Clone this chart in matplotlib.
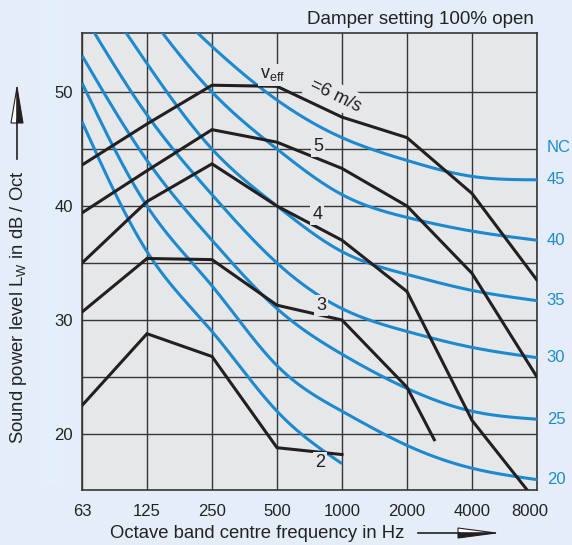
import matplotlib
matplotlib.use('Agg')
import matplotlib.pyplot as plt
import matplotlib.transforms as mtransforms
from matplotlib.patches import Polygon, Rectangle
from matplotlib.lines import Line2D
import numpy as np

plt.rcParams['font.family'] = ['Liberation Sans', 'DejaVu Sans']
plt.rcParams['mathtext.default'] = 'regular'

# octave bands
freq_labels = ['63', '125', '250', '500', '1000', '2000', '4000', '8000']
band_pos = np.arange(8)

# NC curves (blue)
nc_levels = [15, 20, 25, 30, 35, 40, 45]
nc15 = [47.4, 36, 29, 22, 17.4]
nc20 = [50.8, 40, 33, 26, 22, 19, 17, 16]
nc25 = [53.2, 44, 37, 31, 27, 24, 22, 21.3]
nc30 = [57, 48, 41, 35, 31, 29, 27.6, 26.7]
nc35 = [61, 52.5, 45, 40, 36, 34, 32.6, 31.7]
nc40 = [65, 57, 50, 45, 41, 39, 37.8, 37]
nc45 = [68, 60, 54, 49.3, 46, 44, 42.6, 42.3]

# v_eff lines (black)
v_labels = ['2', '3', '4', '5', '6']
v2_x = [0, 1, 2, 3, 4]
v2 = [22.5, 28.8, 26.8, 18.8, 18.2]
v3_x = [0, 1, 2, 3, 4, 5, 5.42]
v3 = [30.7, 35.4, 35.3, 31.3, 30.0, 24.1, 19.5]
v4_x = [0, 1, 2, 3, 4, 5, 6, 7]
v4 = [35.0, 40.4, 43.7, 40.0, 37.0, 32.5, 21.2, 14.0]
v5_x = [0, 1, 2, 3, 4, 5, 6, 7]
v5 = [39.4, 43.1, 46.7, 45.6, 43.3, 40.0, 34.1, 25.0]
v6_x = [0, 1, 2, 3, 4, 5, 6, 7]
v6 = [43.6, 47.2, 50.6, 50.5, 47.8, 46.0, 41.1, 33.5]

blue = '#1d8ad0'
black = '#231f20'
plot_bg = '#e6e7e9'
fig_bg = '#e5eef8'
grid_c = '#363636'


def spline(x, y, xs):
    # natural cubic spline, just to draw the NC curves smooth
    x = np.asarray(x, float)
    y = np.asarray(y, float)
    n = len(x)
    h = np.diff(x)
    A = np.zeros((n, n))
    b = np.zeros(n)
    A[0, 0] = A[-1, -1] = 1
    for k in range(1, n - 1):
        A[k, k - 1] = h[k - 1]
        A[k, k] = 2 * (h[k - 1] + h[k])
        A[k, k + 1] = h[k]
        b[k] = 6 * ((y[k + 1] - y[k]) / h[k] - (y[k] - y[k - 1]) / h[k - 1])
    M = np.linalg.solve(A, b)
    i = np.clip(np.searchsorted(x, xs) - 1, 0, n - 2)
    hi = h[i]
    t0 = x[i + 1] - xs
    t1 = xs - x[i]
    return (M[i] * t0**3 / (6 * hi) + M[i + 1] * t1**3 / (6 * hi)
            + (y[i] / hi - M[i] * hi / 6) * t0 + (y[i + 1] / hi - M[i + 1] * hi / 6) * t1)


fig = plt.figure(figsize=(5.72, 5.45), dpi=100, facecolor=fig_bg)
fig.patches.append(Rectangle((47 / 572, 1 - 483 / 545), 10 / 572, 483 / 545,
                             transform=fig.transFigure, color='#e2f0f9', zorder=-5))
ax = fig.add_axes([82 / 572, 1 - 490 / 545, 455 / 572, 457 / 545])
ax.set_facecolor(plot_bg)
ax.set_xlim(0, 7)
ax.set_ylim(15.09, 55.18)

ax.set_xticks(band_pos)
ax.set_xticklabels(freq_labels)
ax.set_yticks([20, 30, 40, 50])
ax.set_yticks([25, 35, 45], minor=True)
ax.tick_params(which='both', length=0, labelsize=12, colors='#222222')
ax.tick_params(axis='y', pad=6.5)
ax.tick_params(axis='x', pad=10)
ax.grid(True, which='both', color=grid_c, lw=1.0)
ax.set_axisbelow(True)
for s in ax.spines.values():
    s.set_color(grid_c)
    s.set_linewidth(1.2)
lbl = ax.get_xticklabels()[-1]
lbl.set_transform(lbl.get_transform() + mtransforms.ScaledTranslation(-0.07, 0, fig.dpi_scale_trans))

# NC curves
for lev, vals in zip(nc_levels, [nc15, nc20, nc25, nc30, nc35, nc40, nc45]):
    xp = band_pos[:len(vals)]
    xs = np.linspace(xp[0], xp[-1], 300)
    ax.plot(xs, spline(xp, vals, xs), color=blue, lw=2.2, zorder=3, solid_capstyle='butt')
    if lev >= 20:
        ax.annotate(str(lev), (7, vals[-1]), xytext=(7, 0), textcoords='offset points',
                    color=blue, fontsize=12, va='center', ha='left', annotation_clip=False)
ax.annotate('NC', (7, nc45[-1]), xytext=(7, 23), textcoords='offset points',
            color=blue, fontsize=12, va='center', ha='left', annotation_clip=False)

# velocity lines
for vx, vy in [(v2_x, v2), (v3_x, v3), (v4_x, v4), (v5_x, v5), (v6_x, v6)]:
    ax.plot(vx, vy, color=black, lw=2.2, zorder=4, solid_joinstyle='miter')

box = dict(facecolor=plot_bg, edgecolor='none', pad=1.5)
for txt, x, y in [('2', 3.66, 17.5), ('3', 3.68, 31.3), ('4', 3.62, 39.3), ('5', 3.63, 45.2)]:
    ax.text(x, y, txt, fontsize=13, color=black, ha='center', va='center', bbox=box, zorder=5)
ax.text(2.94, 51.5, 'v$_{eff}$', fontsize=13, color=black, ha='center', va='center',
        bbox=box, zorder=5)
ax.text(3.9, 49.7, '=6 m/s', fontsize=13, color=black, ha='center', va='center',
        rotation=-26, rotation_mode='anchor', bbox=dict(facecolor=plot_bg, edgecolor='none', pad=3), zorder=2.5)

fig.text(534 / 572, 1 - 19 / 545, 'Damper setting 100% open', fontsize=13.5, ha='right',
         va='center', color='#222222')
fig.text(257 / 572, 1 - 533 / 545, 'Octave band centre frequency in Hz', fontsize=13.3,
         ha='center', va='center', color='#222222')
fig.text(19 / 572, 1 - 307 / 545, 'Sound power level L$_W$ in dB / Oct', fontsize=13.3,
         ha='center', va='center', rotation=90, color='#222222')


# arrows drawn in pixel coords of the figure
def px(x, y):
    return (x / 572, 1 - y / 545)


tf = fig.transFigure
# x arrow
fig.add_artist(Line2D([px(418, 0)[0], px(460, 0)[0]], [px(0, 533)[1]] * 2, transform=tf,
                      color=black, lw=1.2))
fig.add_artist(Polygon([px(458, 533), px(496, 533), px(458, 528)], closed=True, transform=tf,
                       facecolor='white', edgecolor=black, lw=0.8))
fig.add_artist(Polygon([px(458, 533), px(496, 533), px(458, 538)], closed=True, transform=tf,
                       facecolor=black, edgecolor=black, lw=0.8))
# y arrow
fig.add_artist(Line2D([px(17, 0)[0]] * 2, [px(0, 159)[1], px(0, 120)[1]], transform=tf,
                      color=black, lw=1.2))
fig.add_artist(Polygon([px(17, 123), px(17, 87), px(11, 123)], closed=True, transform=tf,
                       facecolor='white', edgecolor=black, lw=0.8))
fig.add_artist(Polygon([px(17, 123), px(17, 87), px(23, 123)], closed=True, transform=tf,
                       facecolor=black, edgecolor=black, lw=0.8))

fig.savefig('out.png', dpi=100, facecolor=fig_bg)
